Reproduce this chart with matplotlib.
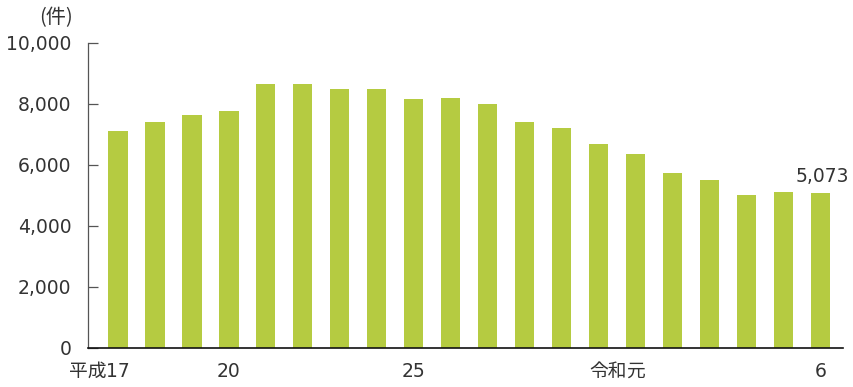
import matplotlib
matplotlib.use("Agg")
import matplotlib.pyplot as plt

plt.rcParams['font.family'] = ['DejaVu Sans', 'Noto Sans CJK JP']

years = ["平成17", "18", "19", "20", "21", "22", "23", "24", "25", "26",
         "27", "28", "29", "30", "令和元", "2", "3", "4", "5", "6"]
counts = [7115, 7410, 7640, 7770, 8660, 8650, 8490, 8490, 8165, 8195,
          8000, 7410, 7215, 6690, 6360, 5740, 5510, 5015, 5115, 5073]
# (era prefix, year part) for the labelled positions
shown_labels = {0: ("平成", "17"), 3: ("", "20"), 8: ("", "25"),
                14: ("令和", "元"), 19: ("", "6")}
yticks = [0, 2000, 4000, 6000, 8000, 10000]

text_color = "#333333"
bar_color = "#b5cb41"
fs = 13.5

fig = plt.figure(figsize=(8.54, 3.87), dpi=100)
ax = fig.add_axes([0.103, 0.1008, 0.884, 0.7881])

x = list(range(len(years)))
ax.bar(x, counts, width=0.52, color=bar_color, zorder=2)

ax.set_ylim(0, 10000)
ax.set_xlim(-0.81, 19.6)
ax.set_yticks(yticks)
ax.set_yticklabels([f"{v:,}" for v in yticks], fontsize=fs, color=text_color)
ax.set_xticks([])
ax.tick_params(axis='y', length=7, width=0.9, color="#555555", pad=12,
               direction='in')

# year labels: the year part is centred under its bar, the era prefix sits to its left
for pos, (prefix, year) in shown_labels.items():
    t = ax.annotate(year, (pos, 0), xycoords=('data', 'axes fraction'),
                    xytext=(0, -10), textcoords='offset points',
                    ha='center', va='top', fontsize=fs, color=text_color)
    if prefix:
        ax.annotate(prefix, xy=(0, 0), xycoords=t, ha='right', va='bottom',
                    fontsize=fs, color=text_color)

for s in ("top", "right"):
    ax.spines[s].set_visible(False)
ax.spines["left"].set_color("#555555")
ax.spines["left"].set_linewidth(0.9)
ax.spines["bottom"].set_color("#111111")
ax.spines["bottom"].set_linewidth(1.2)

last = len(counts) - 1
ax.annotate(f"{counts[last]:,}", (x[last], counts[last]), xytext=(1, 8),
            textcoords="offset points", ha="center", va="baseline",
            fontsize=fs, color=text_color)

fig.text(0.066, 0.955, "(件)", ha="center", va="center", fontsize=14.5,
         color=text_color, family=['Noto Sans CJK JP'])

fig.savefig("out.png", dpi=100)
